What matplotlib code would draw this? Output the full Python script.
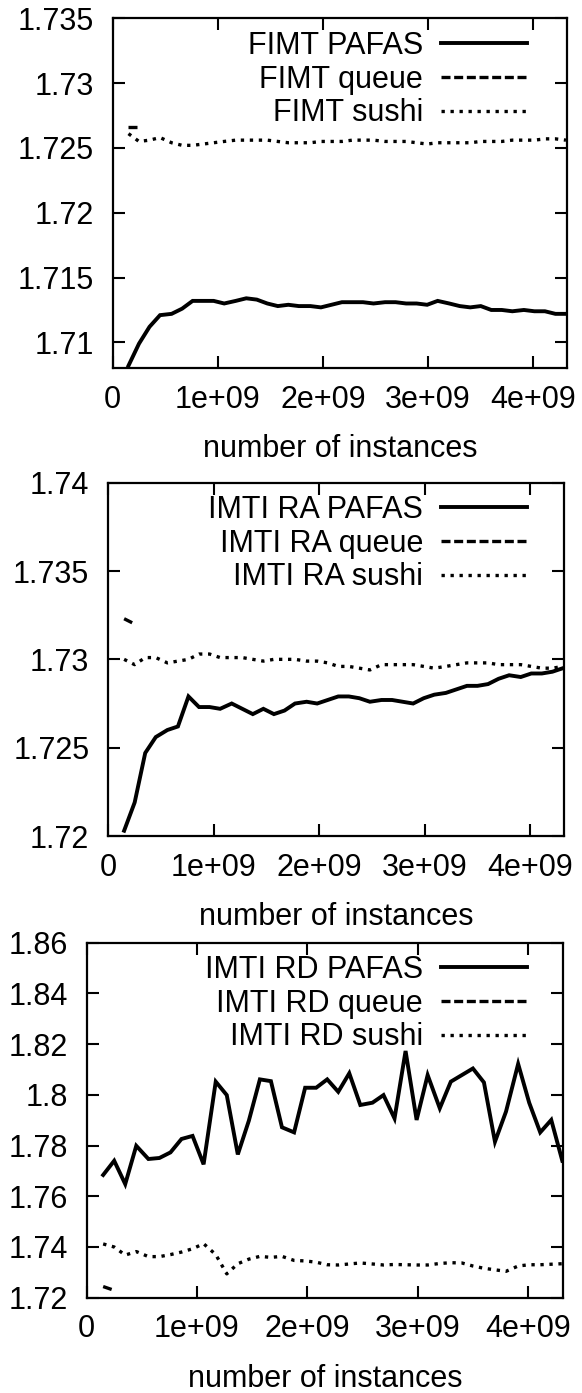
#!/usr/bin/env python
"""Three stacked panels: loss vs. number of instances for the PAFAS,
queue and sushi variants of FIMT, IMTI RA and IMTI RD."""

import matplotlib
matplotlib.use("Agg")
import matplotlib.pyplot as plt
from matplotlib.ticker import FuncFormatter, MultipleLocator

plt.rcParams["font.family"] = ["Liberation Sans", "DejaVu Sans"]

# x positions of the evaluation points, in units of 1e9 instances
X_BILLIONS = [0.15, 0.25, 0.35, 0.45, 0.56, 0.66, 0.76, 0.86, 0.96, 1.06,
              1.17, 1.27, 1.37, 1.47, 1.57, 1.67, 1.77, 1.88, 1.98, 2.08,
              2.18, 2.28, 2.38, 2.48, 2.59, 2.69, 2.79, 2.89, 2.99, 3.09,
              3.20, 3.30, 3.40, 3.50, 3.60, 3.70, 3.80, 3.91, 4.01, 4.11,
              4.21, 4.31]

# --- FIMT ---
FIMT_PAFAS = [1.7082, 1.7099, 1.7112, 1.7121, 1.7122, 1.7126, 1.7132, 1.7132,
              1.7132, 1.7130, 1.7132, 1.7134, 1.7133, 1.7130, 1.7128, 1.7129,
              1.7128, 1.7128, 1.7127, 1.7129, 1.7131, 1.7131, 1.7131, 1.7130,
              1.7131, 1.7131, 1.7130, 1.7130, 1.7129, 1.7132, 1.7130, 1.7128,
              1.7127, 1.7128, 1.7125, 1.7125, 1.7124, 1.7125, 1.7124, 1.7124,
              1.7122, 1.7122]
FIMT_QUEUE = [1.7266, 1.7266]
FIMT_SUSHI = [1.7261, 1.7255, 1.7256, 1.7258, 1.7254, 1.7252, 1.7252, 1.7253,
              1.7254, 1.7255, 1.7256, 1.7256, 1.7256, 1.7256, 1.7255, 1.7254,
              1.7254, 1.7254, 1.7255, 1.7255, 1.7255, 1.7256, 1.7256, 1.7256,
              1.7255, 1.7255, 1.7255, 1.7254, 1.7253, 1.7254, 1.7254, 1.7254,
              1.7254, 1.7255, 1.7255, 1.7255, 1.7256, 1.7256, 1.7256, 1.7257,
              1.7257, 1.7256]

# --- IMTI RA ---
RA_PAFAS = [1.7203, 1.7219, 1.7247, 1.7256, 1.7260, 1.7262, 1.7279, 1.7273,
            1.7273, 1.7272, 1.7275, 1.7272, 1.7269, 1.7272, 1.7269, 1.7271,
            1.7275, 1.7276, 1.7275, 1.7277, 1.7279, 1.7279, 1.7278, 1.7276,
            1.7277, 1.7277, 1.7276, 1.7275, 1.7278, 1.7280, 1.7281, 1.7283,
            1.7285, 1.7285, 1.7286, 1.7289, 1.7291, 1.7290, 1.7292, 1.7292,
            1.7293, 1.7295]
RA_QUEUE = [1.7323, 1.7320]
RA_SUSHI = [1.7300, 1.7297, 1.7301, 1.7301, 1.7298, 1.7299, 1.7300, 1.7303,
            1.7303, 1.7301, 1.7301, 1.7301, 1.7300, 1.7299, 1.7300, 1.7300,
            1.7300, 1.7299, 1.7299, 1.7298, 1.7296, 1.7296, 1.7295, 1.7294,
            1.7297, 1.7297, 1.7297, 1.7297, 1.7296, 1.7295, 1.7296, 1.7297,
            1.7298, 1.7298, 1.7298, 1.7297, 1.7297, 1.7297, 1.7296, 1.7295,
            1.7295, 1.7296]

# --- IMTI RD ---
RD_PAFAS = [1.7684, 1.7740, 1.7648, 1.7799, 1.7747, 1.7751, 1.7773, 1.7826,
            1.7838, 1.7726, 1.8052, 1.7999, 1.7765, 1.7898, 1.8061, 1.8054,
            1.7872, 1.7852, 1.8028, 1.8028, 1.8061, 1.8012, 1.8085, 1.7960,
            1.7969, 1.7999, 1.7907, 1.8173, 1.7901, 1.8078, 1.7947, 1.8052,
            1.8078, 1.8104, 1.8049, 1.7815, 1.7934, 1.8122, 1.7969, 1.7852,
            1.7901, 1.7740]
RD_QUEUE = [1.7244, 1.7229]
RD_SUSHI = [1.7412, 1.7400, 1.7368, 1.7382, 1.7362, 1.7362, 1.7370, 1.7380,
            1.7393, 1.7413, 1.7370, 1.7294, 1.7334, 1.7352, 1.7363, 1.7359,
            1.7363, 1.7347, 1.7345, 1.7340, 1.7330, 1.7329, 1.7333, 1.7337,
            1.7333, 1.7329, 1.7331, 1.7330, 1.7329, 1.7329, 1.7335, 1.7338,
            1.7337, 1.7325, 1.7316, 1.7310, 1.7304, 1.7325, 1.7330, 1.7330,
            1.7332, 1.7334]

PANELS = [
    {"name": "FIMT", "series": (FIMT_PAFAS, FIMT_QUEUE, FIMT_SUSHI),
     "ylim": (1.708, 1.735), "ystep": 0.005,
     "rect": (112.7, 18.3, 567.0, 368.3), "legend_top": 31},
    {"name": "IMTI RA", "series": (RA_PAFAS, RA_QUEUE, RA_SUSHI),
     "ylim": (1.72, 1.74), "ystep": 0.005,
     "rect": (108.3, 482.7, 564.0, 836.0), "legend_top": 495},
    {"name": "IMTI RD", "series": (RD_PAFAS, RD_QUEUE, RD_SUSHI),
     "ylim": (1.72, 1.86), "ystep": 0.02,
     "rect": (86.6, 942.7, 563.4, 1297.7), "legend_top": 955},
]

W, H = 582, 1393
FS = 22
STYLES = [
    {"suffix": "PAFAS", "ls": "-", "lw": 2.8},
    {"suffix": "queue", "ls": (0, (2.7, 1.1)), "lw": 2.4},
    {"suffix": "sushi", "ls": (0, (1.0, 1.7)), "lw": 2.4},
]


def gfmt(v, _pos):
    return f"{v:g}"


def build_panel(fig, spec):
    x0, y0, x1, y1 = spec["rect"]
    ax = fig.add_axes([x0 / W, 1 - y1 / H, (x1 - x0) / W, (y1 - y0) / H])
    xs = [v * 1e9 for v in X_BILLIONS]

    for values, st in zip(spec["series"], STYLES):
        ax.plot(xs[:len(values)], values, color="black", linestyle=st["ls"],
                linewidth=st["lw"], dash_capstyle="butt",
                solid_joinstyle="miter",
                label=f"{spec['name']} {st['suffix']}")

    ax.set_xlim(0, 4.32e9)
    ax.set_ylim(*spec["ylim"])
    ax.xaxis.set_major_locator(MultipleLocator(1e9))
    ax.yaxis.set_major_locator(MultipleLocator(spec["ystep"]))
    ax.xaxis.set_major_formatter(FuncFormatter(gfmt))
    ax.yaxis.set_major_formatter(FuncFormatter(gfmt))
    ax.tick_params(direction="in", length=8.5, width=1.5, labelsize=FS,
                   top=True, right=True)
    ax.tick_params(axis="y", pad=13.7)
    ax.tick_params(axis="x", pad=12)
    for sp in ax.spines.values():
        sp.set_linewidth(1.6)
    ax.set_xlabel("number of instances", fontsize=FS, labelpad=14)

    ax.legend(loc="upper right", frameon=False, markerfirst=False,
              fontsize=FS, handlelength=2.8, handletextpad=0.6,
              labelspacing=0.12, borderpad=0, borderaxespad=0,
              bbox_to_anchor=(527 / W, 1 - spec["legend_top"] / H),
              bbox_transform=fig.transFigure)
    return ax


def main():
    fig = plt.figure(figsize=(W / 100, H / 100), dpi=100)
    for spec in PANELS:
        build_panel(fig, spec)
    fig.savefig("out.png", dpi=100)
    plt.close(fig)


if __name__ == "__main__":
    main()
